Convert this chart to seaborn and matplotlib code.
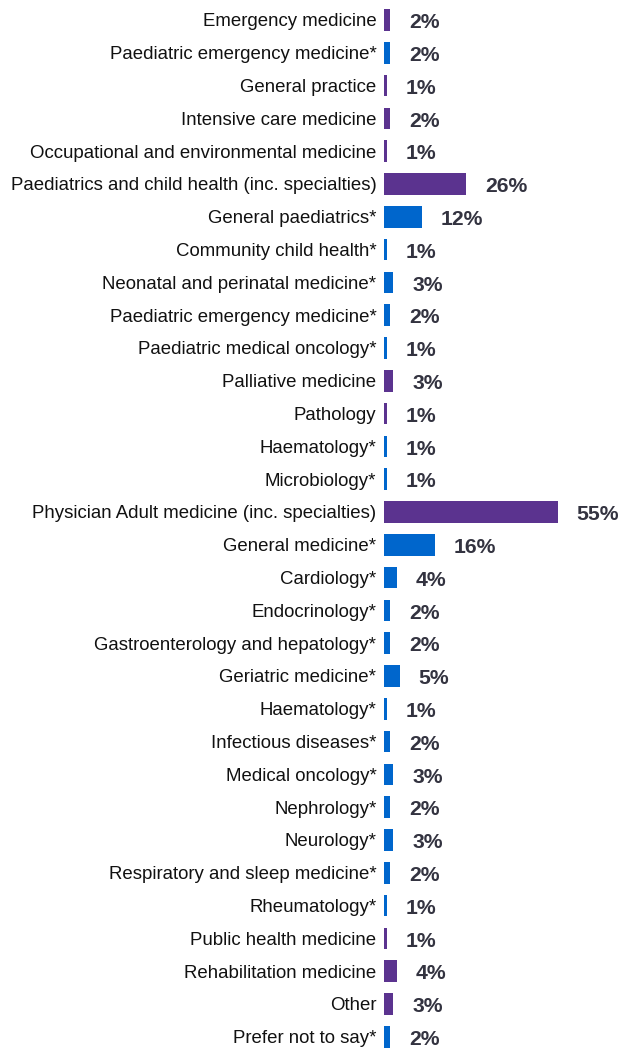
import numpy as np
import pandas as pd
import matplotlib
matplotlib.use("Agg")
import matplotlib.pyplot as plt
import seaborn as sns

labels = [
    "Emergency medicine", "Paediatric emergency medicine*", "General practice",
    "Intensive care medicine", "Occupational and environmental medicine",
    "Paediatrics and child health (inc. specialties)", "General paediatrics*",
    "Community child health*", "Neonatal and perinatal medicine*",
    "Paediatric emergency medicine*", "Paediatric medical oncology*",
    "Palliative medicine", "Pathology", "Haematology*", "Microbiology*",
    "Physician Adult medicine (inc. specialties)", "General medicine*",
    "Cardiology*", "Endocrinology*", "Gastroenterology and hepatology*",
    "Geriatric medicine*", "Haematology*", "Infectious diseases*",
    "Medical oncology*", "Nephrology*", "Neurology*",
    "Respiratory and sleep medicine*", "Rheumatology*", "Public health medicine",
    "Rehabilitation medicine", "Other", "Prefer not to say*",
]
values = [2, 2, 1, 2, 1, 26, 12, 1, 3, 2, 1, 3, 1, 1, 1, 55, 16, 4, 2, 2, 5, 1,
          2, 3, 2, 3, 2, 1, 1, 4, 3, 2]
groups = ["main", "sub", "main", "main", "main", "main", "sub", "sub", "sub",
          "sub", "sub", "main", "main", "sub", "sub", "main", "sub", "sub",
          "sub", "sub", "sub", "sub", "sub", "sub", "sub", "sub", "sub", "sub",
          "main", "main", "main", "sub"]

palette = {"main": "#5b338f", "sub": "#0066cc"}

df = pd.DataFrame({"key": [str(i) for i in range(len(labels))],
                   "value": values, "group": groups})

sns.set_style("white")
plt.rcParams["font.family"] = ["Liberation Sans", "DejaVu Sans"]

W, H = 621, 1048
fig = plt.figure(figsize=(W / 100, H / 100), dpi=100)
step = 32.8
top_px, bot_px = 4, 1048
ax = fig.add_axes([384 / W, 0, (W - 384) / W, (bot_px - top_px) / H])

sns.barplot(data=df, x="value", y="key", hue="group", palette=palette,
            dodge=False, width=0.66, saturation=1, legend=False, ax=ax,
            orient="h", linewidth=0)

ytop = -(20 - top_px) / step
ax.set_ylim(ytop + (bot_px - top_px) / step, ytop)
ax.set_xlim(0, (W - 384) / 3.16)

ax.set_yticks(range(len(labels)))
ax.set_yticklabels(labels, fontsize=13.4, color="#111111")
ax.tick_params(axis="y", length=0, pad=5.5)
ax.set_xticks([])
ax.set_xlabel("")
ax.set_ylabel("")
for s in ax.spines.values():
    s.set_visible(False)

for i, v in enumerate(values):
    ax.annotate(f"{v}%", (v, i), xytext=(13.5, -2), textcoords="offset points",
                ha="left", va="center", fontsize=15.2, fontweight="bold",
                color="#333340")

fig.savefig("out.png", dpi=100)
